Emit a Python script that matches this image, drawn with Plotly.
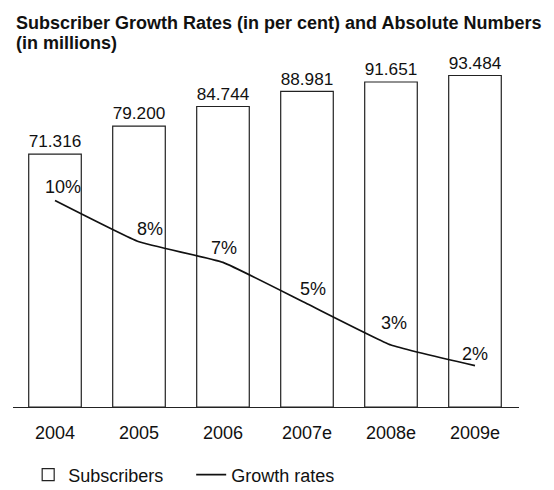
import plotly.graph_objects as go

years = ["2004", "2005", "2006", "2007e", "2008e", "2009e"]
subscribers = [71.316, 79.200, 84.744, 88.981, 91.651, 93.484]
growth = [10, 8, 7, 5, 3, 2]
growth_labels = ["10%", "8%", "7%", "5%", "3%", "2%"]

# label offsets (px) for growth-rate labels
gx_shift = [8, 11, 1, 6, 3, 0]
gy_shift = [13, 13, 14, 15, 22, 12]

FONT = "Liberation Sans, Arial, Helvetica, sans-serif"
TXT = "#111111"

fig = go.Figure()
fig.add_trace(go.Bar(
    x=years, y=subscribers, name="Subscribers",
    marker=dict(color="white", line=dict(color="#222222", width=1.2)),
    texttemplate="%{y:.3f}", textposition="outside", cliponaxis=False,
    textfont=dict(size=18, color=TXT, family=FONT),
))
fig.add_trace(go.Scatter(
    x=years, y=growth, name="Growth rates", yaxis="y2", mode="lines",
    line=dict(color="#111111", width=1.7, shape="spline", smoothing=0.35),
))

for i, (g, lab, dx, dy) in enumerate(zip(growth, growth_labels, gx_shift, gy_shift)):
    fig.add_annotation(x=i, y=g, xref="x", yref="y2", text=lab, showarrow=False,
                       xshift=dx, yshift=dy, xanchor="center", yanchor="middle",
                       font=dict(size=18, color=TXT, family=FONT))

fig.add_annotation(xref="paper", yref="paper", x=0, y=1, xanchor="left", yanchor="middle",
                   xshift=1, yshift=45, showarrow=False,
                   text="<b>Subscriber Growth Rates (in per cent) and Absolute Numbers</b>",
                   font=dict(size=18, color=TXT, family=FONT))
fig.add_annotation(xref="paper", yref="paper", x=0, y=1, xanchor="left", yanchor="middle",
                   xshift=1, yshift=25, showarrow=False,
                   text="<b>(in millions)</b>",
                   font=dict(size=18, color=TXT, family=FONT))

fig.update_layout(
    width=554, height=490,
    margin=dict(l=5, r=43, t=60, b=73),
    paper_bgcolor="white", plot_bgcolor="white",
    bargap=0.374,
    font=dict(family=FONT, size=18, color=TXT),
    showlegend=True,
    legend=dict(orientation="h", x=0.03, y=-0.146, xanchor="left", yanchor="top",
                font=dict(size=18, color=TXT, family=FONT), entrywidth=118,
                bgcolor="rgba(0,0,0,0)"),
    xaxis=dict(type="category", range=[-0.5, 5.524], showline=True, linecolor="#222222",
               linewidth=1.2, ticks="", showgrid=False, zeroline=False,
               ticklabelstandoff=9,
               tickfont=dict(size=18, color=TXT, family=FONT)),
    yaxis=dict(range=[0, 95.6], visible=False, showgrid=False, zeroline=False),
    yaxis2=dict(range=[0, 16.41], overlaying="y", visible=False, showgrid=False, zeroline=False),
)

fig.write_html("out.html")
